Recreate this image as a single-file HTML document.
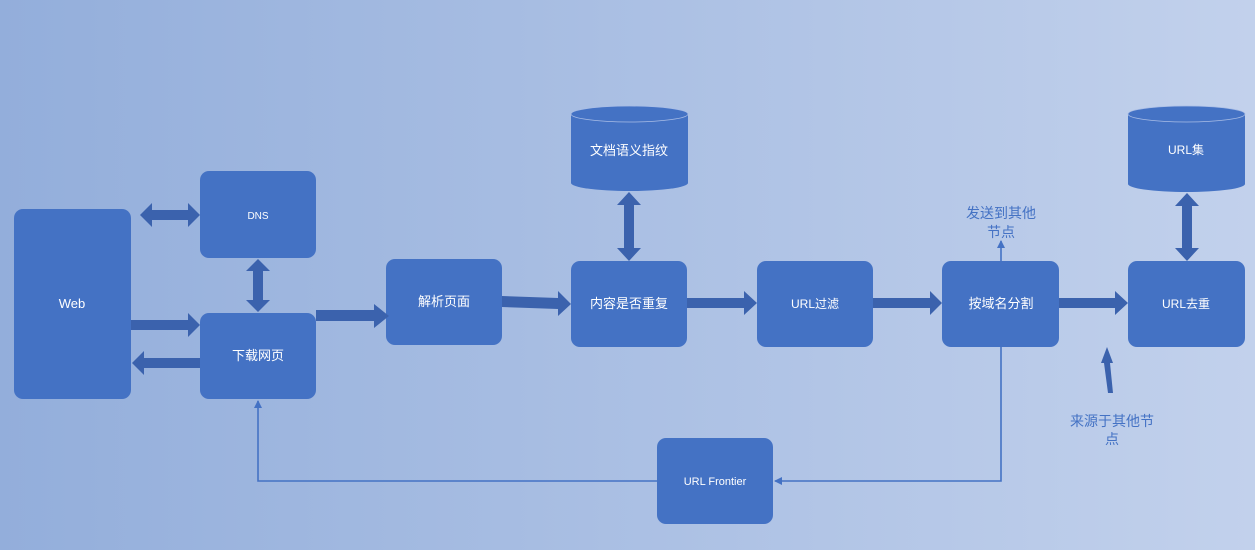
<!DOCTYPE html>
<html><head><meta charset="utf-8"><style>
html,body{margin:0;padding:0;width:1255px;height:550px;overflow:hidden}
svg{display:block}
text{font-family:"Liberation Sans","Noto Sans CJK SC",sans-serif}
</style></head><body>
<svg width="1255" height="550" viewBox="0 0 1255 550" xmlns="http://www.w3.org/2000/svg">
<defs>
<linearGradient id="bg" x1="0" y1="0" x2="1" y2="0">
<stop offset="0" stop-color="#93aedb"/><stop offset="1" stop-color="#c2d1ec"/>
</linearGradient>
<marker id="ah" markerWidth="8" markerHeight="8" refX="7" refY="4" orient="auto" markerUnits="userSpaceOnUse">
<path d="M0,0 L8,4 L0,8 z" fill="#4472c4"/></marker>
</defs>
<rect width="1255" height="550" fill="url(#bg)"/>
<g fill="#4472c4">
<rect x="14" y="209" width="117" height="190" rx="9"/>
<rect x="200" y="171" width="116" height="87" rx="9"/>
<rect x="200" y="313" width="116" height="86" rx="9"/>
<rect x="386" y="259" width="116" height="86" rx="9"/>
<rect x="571" y="261" width="116" height="86" rx="9"/>
<rect x="757" y="261" width="116" height="86" rx="9"/>
<rect x="942" y="261" width="117" height="86" rx="9"/>
<rect x="1128" y="261" width="117" height="86" rx="9"/>
<rect x="657" y="438" width="116" height="86" rx="9"/>
<path d="M571,114 A58.5,8 0 0 1 688,114 L688,183 A58.5,8 0 0 1 571,183 Z"/>
<path d="M1128,114 A58.5,8 0 0 1 1245,114 L1245,184 A58.5,8 0 0 1 1128,184 Z"/>
</g>
<ellipse cx="629.5" cy="114" rx="58.5" ry="8" fill="#4472c4" stroke="#a9bde6" stroke-width="0.8"/>
<ellipse cx="1186.5" cy="114" rx="58.5" ry="8" fill="#4472c4" stroke="#a9bde6" stroke-width="0.8"/>
<g fill="#3b62ad">
<!-- Web -> download -->
<path d="M131,320 L188,320 L188,313 L200,325 L188,337 L188,330 L131,330 Z"/>
<!-- download -> Web -->
<path d="M200,358 L144,358 L144,351 L132,363 L144,375 L144,368 L200,368 Z"/>
<!-- DNS <-> Web -->
<path d="M140,215 L152,203 L152,210 L188,210 L188,203 L200,215 L188,227 L188,220 L152,220 L152,227 Z"/>
<!-- DNS <-> download -->
<path d="M258,259 L270,271 L263,271 L263,300 L270,300 L258,312 L246,300 L253,300 L253,271 L246,271 Z"/>
<!-- download -> parse -->
<path d="M316,310 L374,310 L374,304 L389,316 L374,328 L374,321 L316,321 Z"/>
<!-- parse -> content -->
<path d="M502,296 L558,298 L558,291 L571,304 L558,316 L558,309 L502,307 Z"/>
<path d="M687,298 L744,298 L744,291 L757,303 L744,315 L744,308 L687,308 Z"/>
<path d="M873,298 L930,298 L930,291 L942,303 L930,315 L930,308 L873,308 Z"/>
<path d="M1059,298 L1115,298 L1115,291 L1128,303 L1115,315 L1115,308 L1059,308 Z"/>
<!-- content <-> fingerprint -->
<path d="M629,192 L641,205 L634,205 L634,248 L641,248 L629,261 L617,248 L624,248 L624,205 L617,205 Z"/>
<!-- url set <-> dedupe -->
<path d="M1187,193 L1199,206 L1192,206 L1192,248 L1199,248 L1187,261 L1175,248 L1182,248 L1182,206 L1175,206 Z"/>
<!-- from other nodes -->
<path d="M1107,347 L1113,363 L1110,363 L1113,393 L1108,393 L1104,363 L1101,363 Z"/>
</g>
<g stroke="#4472c4" stroke-width="1.6" fill="none">
<path d="M1001,347 L1001,481 L775,481" marker-end="url(#ah)"/>
<path d="M657,481 L258,481 L258,401" marker-end="url(#ah)"/>
<path d="M1001,261 L1001,241" marker-end="url(#ah)"/>
</g>
<g fill="#ffffff" font-size="13" text-anchor="middle">
<text x="72" y="308">Web</text>
<text x="258" y="219" font-size="10">DNS</text>
<text x="258" y="360">下载网页</text>
<text x="444" y="306">解析页面</text>
<text x="629" y="308">内容是否重复</text>
<text x="815" y="308" font-size="12">URL过滤</text>
<text x="1001" y="308">按域名分割</text>
<text x="1186" y="308" font-size="12">URL去重</text>
<text x="715" y="485" font-size="11">URL Frontier</text>
<text x="629" y="155">文档语义指纹</text>
<text x="1186" y="154" font-size="12">URL集</text>
</g>
<g fill="#4472c4" font-size="14" text-anchor="middle">
<text x="1001" y="218">发送到其他</text>
<text x="1001" y="237">节点</text>
<text x="1112" y="426">来源于其他节</text>
<text x="1112" y="444">点</text>
</g>
</svg>
</body></html>
